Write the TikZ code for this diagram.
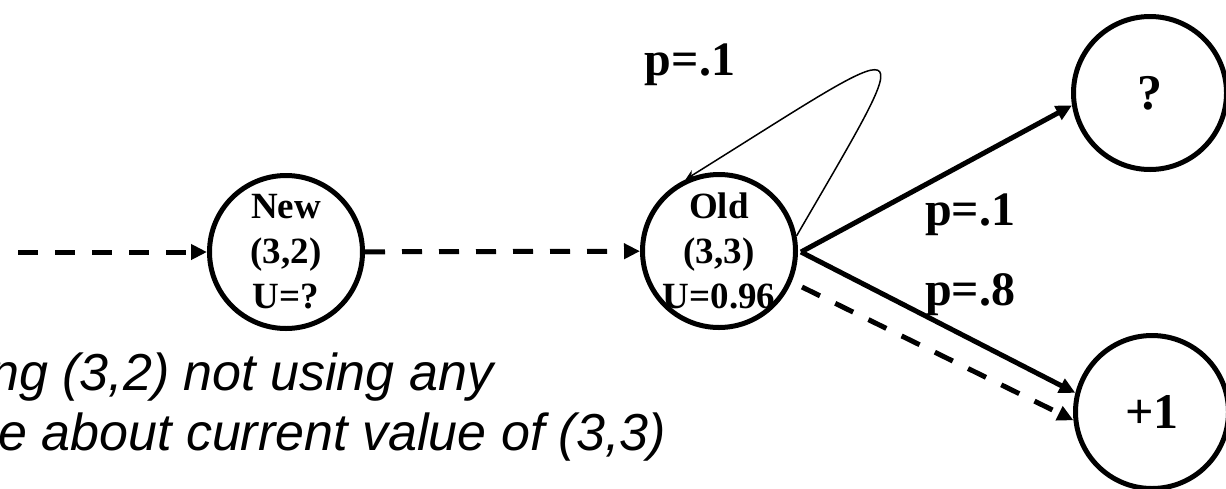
\documentclass[tikz,border=0pt]{standalone}
\usepackage{fontspec}
\setmainfont{Liberation Serif}
\newfontfamily\arialfont{Liberation Sans}
\usetikzlibrary{arrows.meta,calc}
\tikzset{
  state/.style={circle, draw, line width=5pt, minimum size=153pt, inner sep=0pt},
  stext/.style={font=\fontsize{37}{45}\selectfont\bfseries, align=center, inner sep=0pt},
  big/.style={font=\fontsize{50}{54}\selectfont\bfseries, inner sep=0pt},
  lab/.style={font=\fontsize{48}{52}\selectfont\bfseries, inner sep=0pt},
  arr/.style={line width=5pt, -{Triangle[length=16pt,width=15pt]}},
  dasharr/.style={arr, dash pattern=on 20pt off 17pt},
  loopline/.style={line width=1.5pt, -{Stealth[length=10pt,width=9pt]}},
  note/.style={font=\arialfont\itshape\fontsize{52}{60}\selectfont, anchor=base west, inner sep=0pt}
}
\begin{document}
\begin{tikzpicture}[x=1pt,y=-1pt]
\useasboundingbox (0,0) rectangle (1226,488);
% states
\node[state] (New) at (286,252) {};
\node[stext] (NewT) at (New) {New\\(3,2)\\U=?};
\node[state] (Old) at (719,251) {};
\node[stext] (OldT) at (Old) {Old\\(3,3)\\U=0.96};
\node[state] (Q) at (1150,93) {};
\node[big] (QT) at (Q) {?};
\node[state] (P) at (1152,412) {};
\node[big] (PT) at (P) {+1};
% connectors
\coordinate (start) at (18,252);
\draw[dasharr] (start) -- (New);
\draw[dasharr] (New) -- (Old);
\coordinate (fork) at ($(Old.east)+(3,1)$);
\draw[arr] (fork) -- (Q.189);
\draw[arr] (fork) -- (P.166);
\coordinate (dstart) at ($(Old)+(83,36)$);
\draw[dasharr] (dstart) -- (P.186);
\draw[loopline] (Old.11) .. controls (923,18) and (922,32) .. (Old.115);
% labels
\node[lab, anchor=base] (l1) at (690,75) {p=.1};
\node[lab, anchor=base west] (l2) at (925,225) {p=.1};
\node[lab, anchor=base west] (l3) at (925,305) {p=.8};
\node[note] (n1) at (-10,390) {ng (3,2) not using any};
\node[note] (n2) at (-2,450) {e about current value of (3,3)};
\end{tikzpicture}
\end{document}
